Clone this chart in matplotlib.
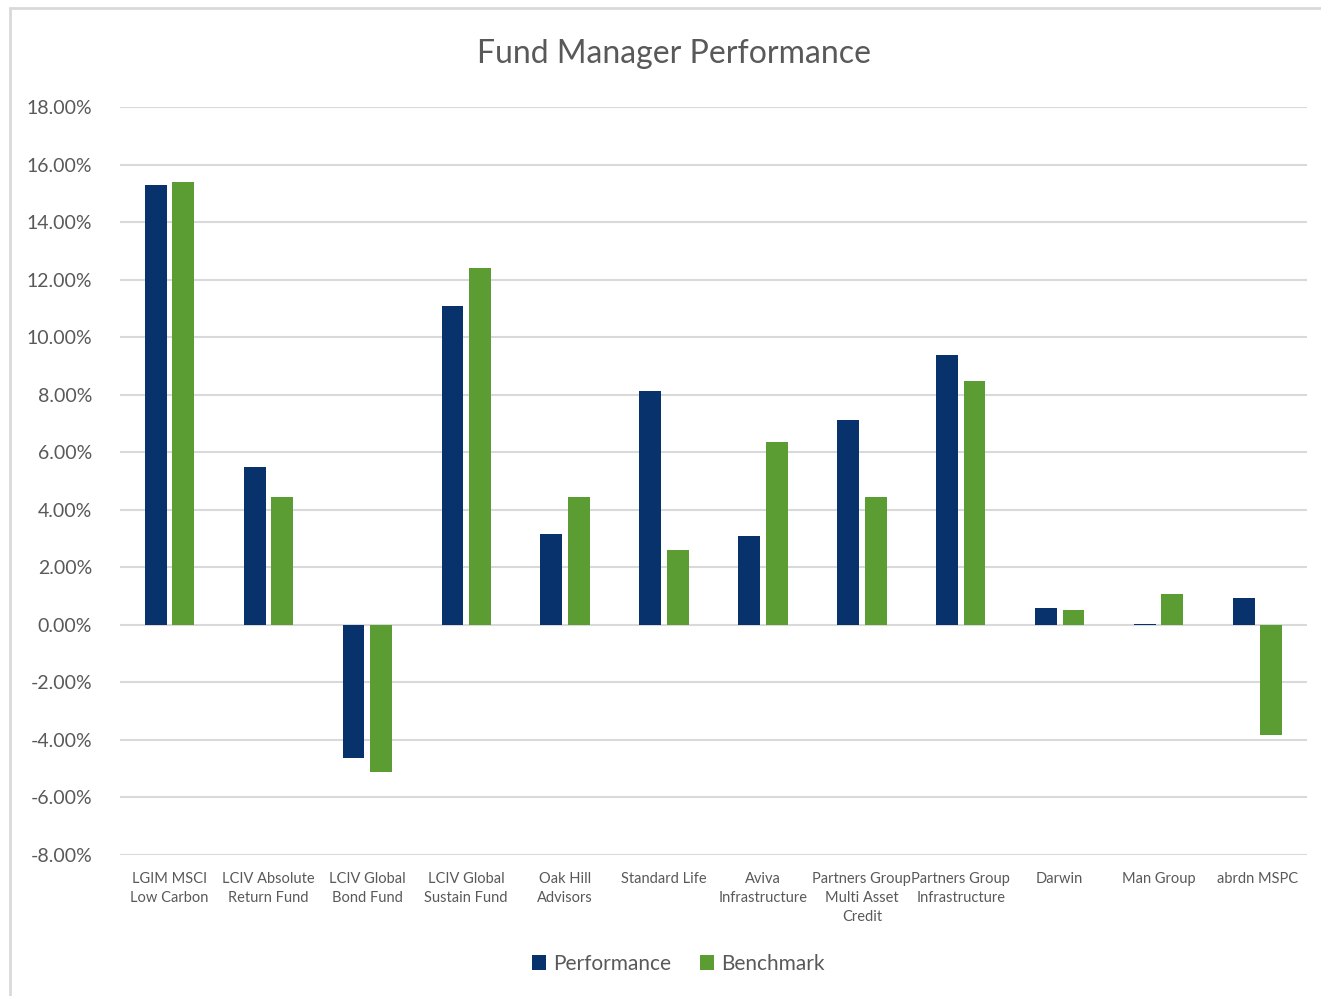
import numpy as np
import matplotlib.pyplot as plt
from matplotlib.patches import Rectangle
from matplotlib.ticker import FuncFormatter

funds = [
    "LGIM MSCI\nLow Carbon",
    "LCIV Absolute\nReturn Fund",
    "LCIV Global\nBond Fund",
    "LCIV Global\nSustain Fund",
    "Oak Hill\nAdvisors",
    "Standard Life",
    "Aviva\nInfrastructure",
    "Partners Group\nMulti Asset\nCredit",
    "Partners Group\nInfrastructure",
    "Darwin",
    "Man Group",
    "abrdn MSPC",
]
performance = [15.28, 5.49, -4.62, 11.08, 3.16, 8.13, 3.09, 7.12, 9.38, 0.59, 0.02, 0.94]
benchmark = [15.38, 4.44, -5.10, 12.40, 4.44, 2.60, 6.35, 4.44, 8.47, 0.52, 1.08, -3.82]

navy = "#08326b"
green = "#5b9d33"
grey = "#595959"

plt.rcParams["font.family"] = ["Lato", "DejaVu Sans"]

fig = plt.figure(figsize=(13.21, 9.96), dpi=100)
ax = fig.add_axes([120 / 1321, 1 - 855 / 996, (1307 - 120) / 1321, (855 - 107) / 996])

x = np.arange(len(funds))
w = 0.22
off = 0.139
ax.bar(x - off, performance, w, color=navy, label="Performance", zorder=3)
ax.bar(x + off, benchmark, w, color=green, label="Benchmark", zorder=3)

ax.set_xlim(-0.5, len(funds) - 0.5)
ax.set_ylim(-8, 18)
ax.set_yticks(np.arange(-8, 19, 2))
ax.yaxis.set_major_formatter(FuncFormatter(lambda v, p: f"{v:.2f}%"))
ax.grid(axis="y", color="#d9d9d9", linewidth=1.5, zorder=0)
ax.set_xticks(x)
ax.set_xticklabels(funds, fontsize=10.5, color=grey, linespacing=1.45)
ax.tick_params(axis="both", length=0)
ax.tick_params(axis="y", labelsize=14, colors=grey, pad=20)
ax.tick_params(axis="x", pad=12)
for s in ax.spines.values():
    s.set_visible(False)

fig.text(674 / 1321, 1 - 54 / 996, "Fund Manager Performance", ha="center", va="center",
         fontsize=23, color=grey)

fig.legend(loc="center", bbox_to_anchor=(678 / 1321, 1 - 964 / 996), ncol=2, frameon=False,
           fontsize=15, labelcolor=grey, handlelength=0.7, handleheight=0.7,
           handletextpad=0.3, columnspacing=1.4)

# chart-area border (only left and top edges are visible in the crop)
fig.patches.append(Rectangle((10 / 1321, -0.1), 1.2, 1.1 - 8 / 996, transform=fig.transFigure,
                             fill=False, edgecolor="#d9d9d9", linewidth=2))

fig.savefig("out.png", dpi=100)
